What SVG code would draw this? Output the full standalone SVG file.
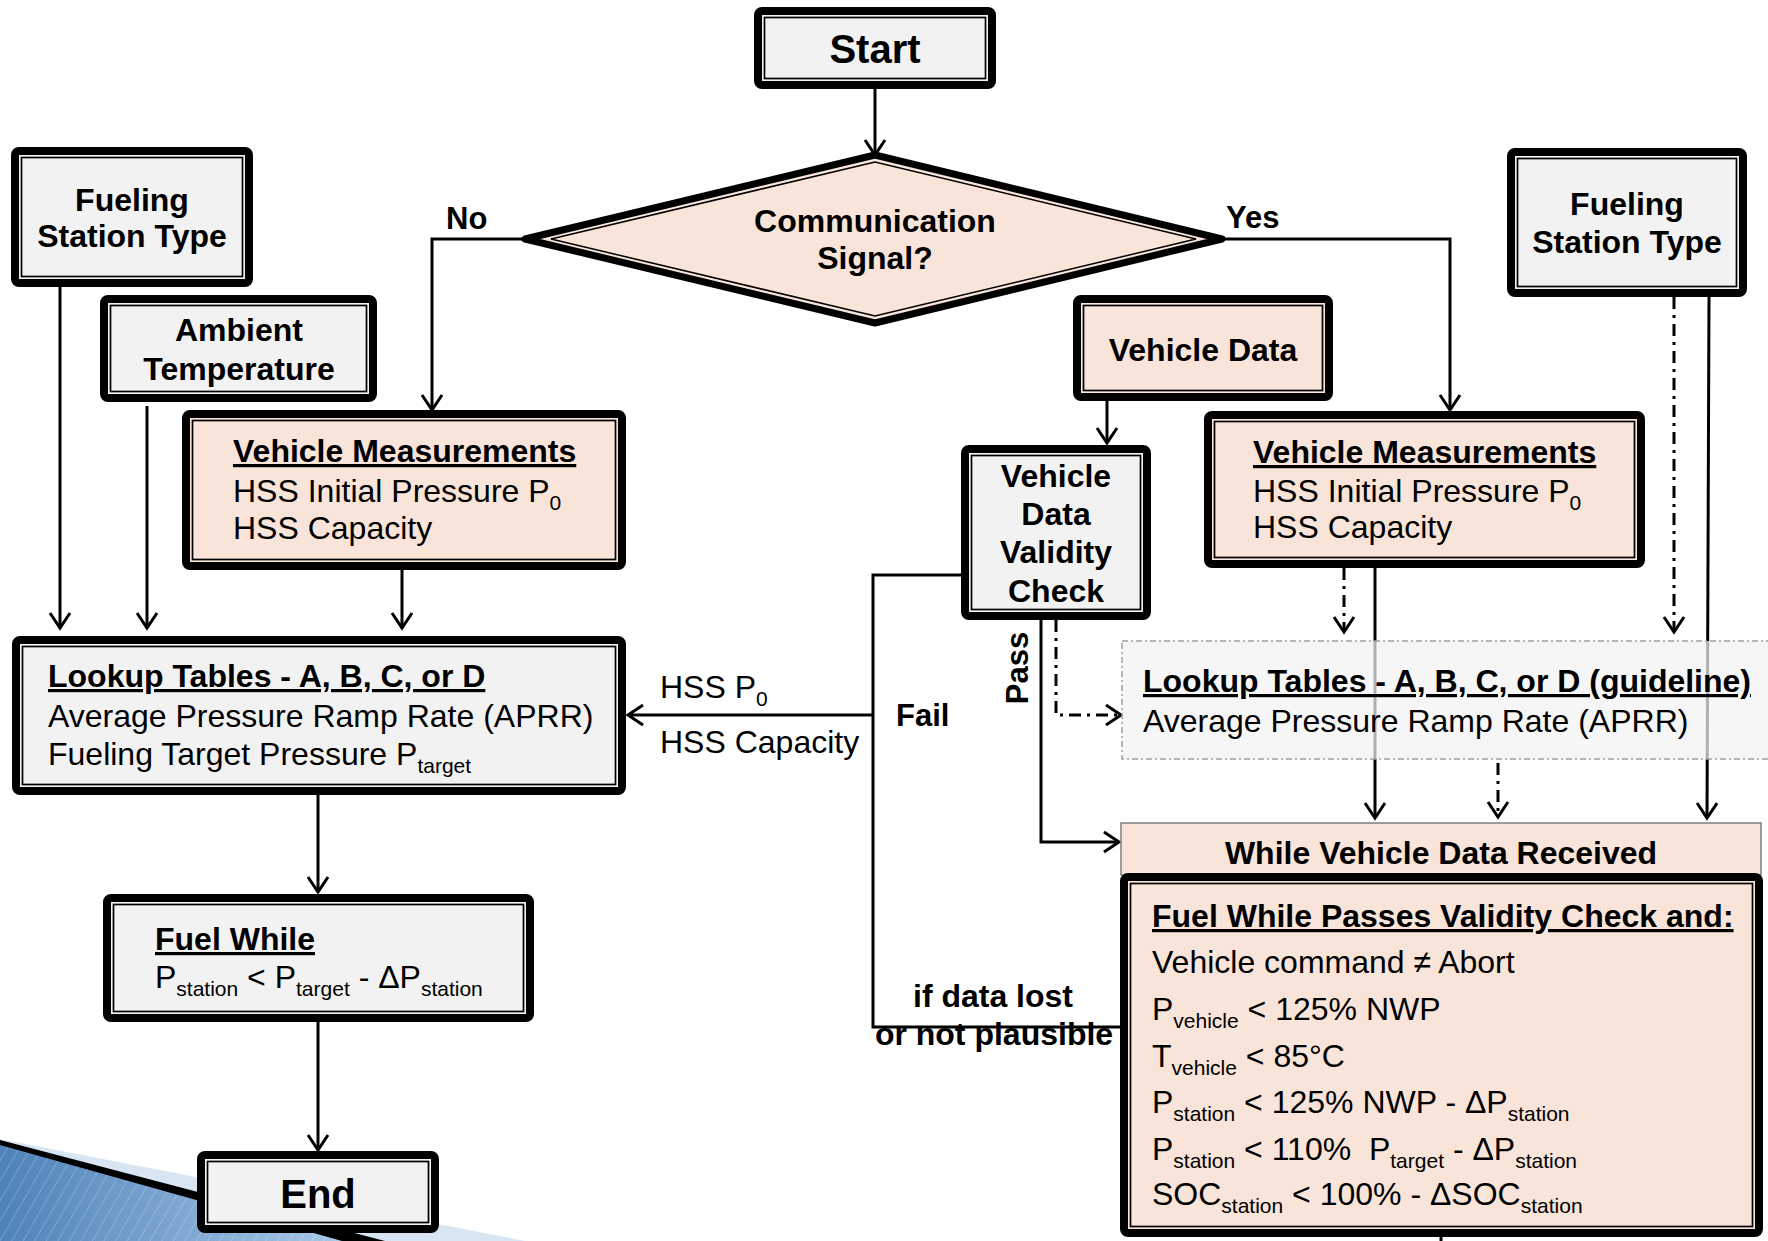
<svg xmlns="http://www.w3.org/2000/svg" width="1768" height="1241" viewBox="0 0 1768 1241">
<style>
.o{stroke:#000;stroke-width:8}
.i{fill:none;stroke:#000;stroke-width:1.7}
.g{fill:#f2f2f2}
.p{fill:#f8e4d8}
.t{font-family:"Liberation Sans",Arial,sans-serif;font-size:32px;fill:#000}
.b{font-weight:bold}
.c{text-anchor:middle}
.u{text-decoration:underline}
.s{font-size:21px}
.conn{fill:none;stroke:#000;stroke-width:3}
.dd{stroke-dasharray:12 6 3 6}
</style>
<defs>
<marker id="arr" viewBox="0 0 20 22" markerUnits="userSpaceOnUse" markerWidth="20" markerHeight="22" refX="16" refY="11" orient="auto" overflow="visible">
<path d="M1,1 L16,11 L1,21" fill="none" stroke="#000" stroke-width="3"/>
</marker>
<linearGradient id="blueg" x1="0" y1="0" x2="1" y2="0">
<stop offset="0" stop-color="#4f82b8"/>
<stop offset="1" stop-color="#a9c9e8"/>
</linearGradient>
<pattern id="stripes" width="10" height="10" patternUnits="userSpaceOnUse" patternTransform="rotate(30)">
<line x1="0" y1="0" x2="0" y2="10" stroke="#ffffff" stroke-opacity="0.2" stroke-width="2"/>
</pattern>
</defs>

<g id="decoration">
<polygon points="0,1139 525,1241 380,1241 0,1144" fill="#d8e6f3"/>
<polygon points="0,1144 345,1241 0,1241" fill="url(#blueg)"/>
<polygon points="0,1144 345,1241 0,1241" fill="url(#stripes)"/>
<polygon points="0,1140 385,1241 342,1241 0,1145" fill="#000"/>
</g>

<g id="connectors">
<path class="conn" d="M875,89 L875,155" marker-end="url(#arr)"/>
<path class="conn" d="M525,239 L432,239 L432,410" marker-end="url(#arr)"/>
<path class="conn" d="M1222,239 L1450,239 L1450,410" marker-end="url(#arr)"/>
<path class="conn" d="M60,287 L60,628" marker-end="url(#arr)"/>
<path class="conn" d="M147,406 L147,628" marker-end="url(#arr)"/>
<path class="conn" d="M402,570 L402,628" marker-end="url(#arr)"/>
<path class="conn" d="M318,795 L318,892" marker-end="url(#arr)"/>
<path class="conn" d="M318,1022 L318,1150" marker-end="url(#arr)"/>
<path class="conn" d="M1107,401 L1107,443" marker-end="url(#arr)"/>
<path class="conn" d="M961,575 L873,575 L873,1027 L1120,1027"/>
<path class="conn" d="M873,715 L628,715" marker-end="url(#arr)"/>
<path class="conn" d="M1041,620 L1041,842 L1119,842" marker-end="url(#arr)"/>
<path class="conn dd" d="M1056,620 L1056,715 L1121,715" marker-end="url(#arr)"/>
<path class="conn dd" d="M1344,568 L1344,632" marker-end="url(#arr)"/>
<path class="conn" d="M1375,568 L1375,818" marker-end="url(#arr)"/>
<path class="conn dd" d="M1674,297 L1674,632" marker-end="url(#arr)"/>
<path class="conn" d="M1709,297 L1707,818" marker-end="url(#arr)"/>
<path class="conn dd" d="M1498,763 L1498,817" marker-end="url(#arr)"/>
<path class="conn" d="M1441,1237 L1441,1241"/>
</g>

<g id="start">
<rect class="o g" x="758" y="11" width="234" height="74" rx="4"/>
<rect class="i" x="764.5" y="17.5" width="221" height="61"/>
<text class="t b c" x="875" y="63" style="font-size:40px">Start</text>
</g>

<g id="decision">
<polygon points="525,239 875,155 1222,239 875,323" fill="#f8e4d8" stroke="#000" stroke-width="7" stroke-linejoin="round"/>
<polygon points="551,239 875,162 1196,239 875,316" fill="none" stroke="#000" stroke-width="1.5"/>
<text class="t b c" x="875" y="232">Communication</text>
<text class="t b c" x="875" y="269">Signal?</text>
</g>

<g id="labels">
<text class="t b" x="446" y="229" style="font-size:31px">No</text>
<text class="t b" x="1226" y="228" style="font-size:31px">Yes</text>
<text class="t" x="660" y="698">HSS P<tspan class="s" dy="8">0</tspan></text>
<text class="t" x="660" y="753">HSS Capacity</text>
<text class="t b" x="896" y="726" style="font-size:31px">Fail</text>
<text class="t b c" transform="translate(1028,668) rotate(-90)" x="0" y="0" style="font-size:31px">Pass</text>
<text class="t b c" x="993" y="1007">if data lost</text>
<text class="t b c" x="994" y="1045">or not plausible</text>
</g>

<g id="fueling-left">
<rect class="o g" x="15" y="151" width="234" height="132" rx="4"/>
<rect class="i" x="21.5" y="157.5" width="221" height="119"/>
<text class="t b c" x="132" y="211">Fueling</text>
<text class="t b c" x="132" y="247">Station Type</text>
</g>

<g id="ambient">
<rect class="o g" x="104" y="299" width="269" height="99" rx="4"/>
<rect class="i" x="110.5" y="305.5" width="256" height="86"/>
<text class="t b c" x="239" y="341">Ambient</text>
<text class="t b c" x="239" y="380">Temperature</text>
</g>

<g id="vm-left">
<rect class="o p" x="186" y="414" width="436" height="152" rx="4"/>
<rect class="i" x="192.5" y="420.5" width="423" height="139"/>
<text class="t b u" x="233" y="462">Vehicle Measurements</text>
<text class="t" x="233" y="502">HSS Initial Pressure P<tspan class="s" dy="8">0</tspan></text>
<text class="t" x="233" y="539">HSS Capacity</text>
</g>

<g id="lookup-left">
<rect class="o g" x="16" y="640" width="606" height="151" rx="4"/>
<rect class="i" x="22.5" y="646.5" width="593" height="138"/>
<text class="t b u" x="48" y="687">Lookup Tables - A, B, C, or D</text>
<text class="t" x="48" y="727">Average Pressure Ramp Rate (APRR)</text>
<text class="t" x="48" y="765">Fueling Target Pressure P<tspan class="s" dy="8">target</tspan></text>
</g>

<g id="fuel-while-left">
<rect class="o g" x="107" y="898" width="423" height="120" rx="4"/>
<rect class="i" x="113.5" y="904.5" width="410" height="107"/>
<text class="t b u" x="155" y="950">Fuel While</text>
<text class="t" x="155" y="988">P<tspan class="s" dy="8">station</tspan><tspan dy="-8"> &lt; P</tspan><tspan class="s" dy="8">target</tspan><tspan dy="-8"> - ΔP</tspan><tspan class="s" dy="8">station</tspan></text>
</g>

<g id="end">
<rect class="o g" x="201" y="1155" width="234" height="74" rx="4"/>
<rect class="i" x="207.5" y="1161.5" width="221" height="61"/>
<text class="t b c" x="318" y="1208" style="font-size:40px">End</text>
</g>

<g id="vehicle-data">
<rect class="o p" x="1077" y="299" width="252" height="98" rx="4"/>
<rect class="i" x="1083.5" y="305.5" width="239" height="85"/>
<text class="t b c" x="1203" y="361">Vehicle Data</text>
</g>

<g id="validity-check">
<rect class="o g" x="965" y="449" width="182" height="167" rx="4"/>
<rect class="i" x="971.5" y="455.5" width="169" height="154"/>
<text class="t b c" x="1056" y="487">Vehicle</text>
<text class="t b c" x="1056" y="525">Data</text>
<text class="t b c" x="1056" y="563">Validity</text>
<text class="t b c" x="1056" y="602">Check</text>
</g>

<g id="vm-right">
<rect class="o p" x="1208" y="415" width="433" height="149" rx="4"/>
<rect class="i" x="1214.5" y="421.5" width="420" height="136"/>
<text class="t b u" x="1253" y="463">Vehicle Measurements</text>
<text class="t" x="1253" y="502">HSS Initial Pressure P<tspan class="s" dy="8">0</tspan></text>
<text class="t" x="1253" y="538">HSS Capacity</text>
</g>

<g id="fueling-right">
<rect class="o g" x="1511" y="152" width="232" height="141" rx="4"/>
<rect class="i" x="1517.5" y="158.5" width="219" height="128"/>
<text class="t b c" x="1627" y="215">Fueling</text>
<text class="t b c" x="1627" y="253">Station Type</text>
</g>

<g id="lookup-right">
<rect x="1122" y="641" width="670" height="118" fill="#f2f2f2" fill-opacity="0.72" stroke="#a0a0a0" stroke-width="1.5" stroke-dasharray="6 3 2 3"/>
<text class="t b u" x="1143" y="692">Lookup Tables - A, B, C, or D (guideline)</text>
<text class="t" x="1143" y="732">Average Pressure Ramp Rate (APRR)</text>
</g>

<g id="while-received">
<rect class="p" x="1121" y="823" width="640" height="52" stroke="#7f7f7f" stroke-width="1.5"/>
<text class="t b c" x="1441" y="864">While Vehicle Data Received</text>
</g>

<g id="fuel-while-passes">
<rect class="o p" x="1124" y="877" width="635" height="356" rx="4"/>
<rect class="i" x="1130.5" y="883.5" width="622" height="343"/>
<text class="t b u" x="1152" y="927">Fuel While Passes Validity Check and:</text>
<text class="t" x="1152" y="973">Vehicle command ≠ Abort</text>
<text class="t" x="1152" y="1020">P<tspan class="s" dy="8">vehicle</tspan><tspan dy="-8"> &lt; 125% NWP</tspan></text>
<text class="t" x="1152" y="1067">T<tspan class="s" dy="8">vehicle</tspan><tspan dy="-8"> &lt; 85°C</tspan></text>
<text class="t" x="1152" y="1113">P<tspan class="s" dy="8">station</tspan><tspan dy="-8"> &lt; 125% NWP - ΔP</tspan><tspan class="s" dy="8">station</tspan></text>
<text class="t" x="1152" y="1160">P<tspan class="s" dy="8">station</tspan><tspan dy="-8"> &lt; 110%&#160; P</tspan><tspan class="s" dy="8">target</tspan><tspan dy="-8"> - ΔP</tspan><tspan class="s" dy="8">station</tspan></text>
<text class="t" x="1152" y="1205">SOC<tspan class="s" dy="8">station</tspan><tspan dy="-8"> &lt; 100% - ΔSOC</tspan><tspan class="s" dy="8">station</tspan></text>
</g>
</svg>
